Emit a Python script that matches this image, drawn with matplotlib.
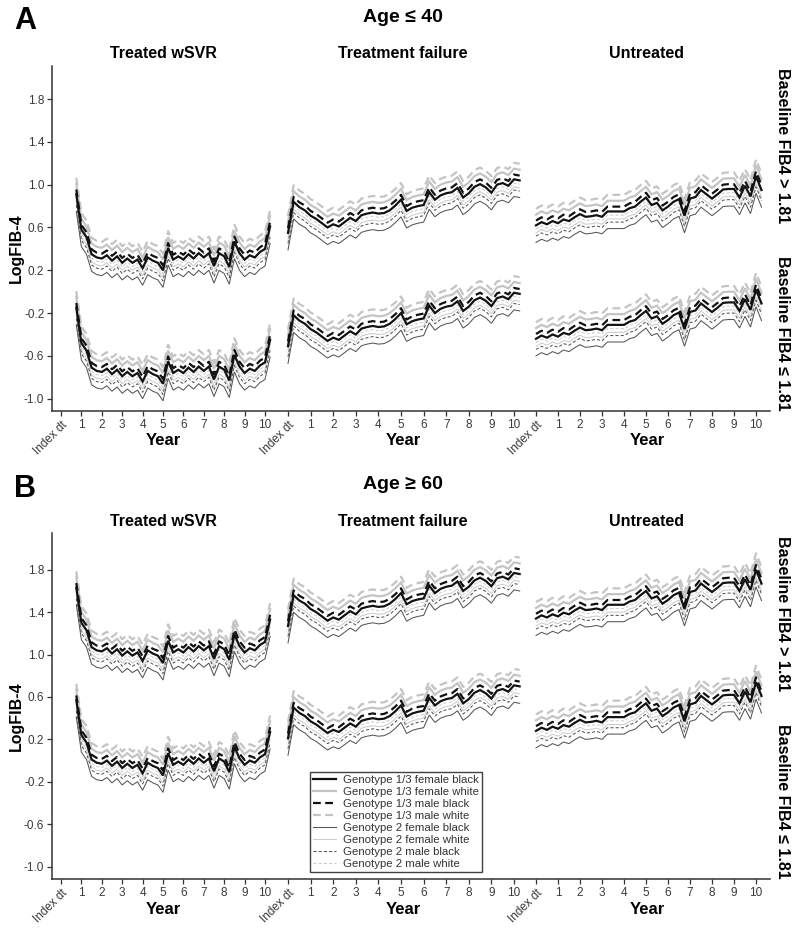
import numpy as np
import matplotlib.pyplot as plt
from matplotlib.lines import Line2D

plt.rcParams['font.family'] = ['Liberation Sans', 'DejaVu Sans']

# quarterly time points, years since index date
years_svr = np.arange(0.75, 10.26, 0.25)
years_other = np.arange(0.0, 10.26, 0.25)

# LogFIB-4, Genotype 1/3 female black, age <= 40, baseline FIB4 <= 1.81
svr_low = [-0.15, -0.48, -0.55, -0.71, -0.74, -0.75, -0.72, -0.77, -0.73, -0.79,
           -0.75, -0.79, -0.76, -0.84, -0.74, -0.77, -0.79, -0.86, -0.65, -0.76,
           -0.73, -0.76, -0.71, -0.75, -0.70, -0.74, -0.70, -0.82, -0.70, -0.73,
           -0.83, -0.59, -0.70, -0.76, -0.72, -0.74, -0.69, -0.66, -0.45]
fail_low = [-0.51, -0.22, -0.27, -0.30, -0.35, -0.38, -0.42, -0.46, -0.43, -0.45,
            -0.41, -0.37, -0.40, -0.345, -0.33, -0.32, -0.33, -0.325, -0.30, -0.255,
            -0.20, -0.305, -0.275, -0.26, -0.25, -0.13, -0.20, -0.16, -0.14, -0.13,
            -0.09, -0.18, -0.14, -0.08, -0.055, -0.085, -0.135, -0.06, -0.045, -0.07,
            -0.01, -0.02]
untr_low = [-0.44, -0.41, -0.43, -0.40, -0.42, -0.385, -0.40, -0.365, -0.335, -0.36,
            -0.355, -0.345, -0.36, -0.31, -0.31, -0.31, -0.31, -0.28, -0.265, -0.22,
            -0.18, -0.25, -0.23, -0.30, -0.265, -0.22, -0.195, -0.35, -0.19, -0.175,
            -0.11, -0.15, -0.19, -0.15, -0.105, -0.10, -0.10, -0.18, -0.07, -0.17,
            0.02, -0.11]

# shifts
high_fib4_shift = 1.06   # baseline FIB4 > 1.81 vs <= 1.81
age60_shift = 0.72       # age >= 60 vs age <= 40

groups = ['Genotype 1/3 female black', 'Genotype 1/3 female white',
          'Genotype 1/3 male black', 'Genotype 1/3 male white',
          'Genotype 2 female black', 'Genotype 2 female white',
          'Genotype 2 male black', 'Genotype 2 male white']
group_shift = [0.0, 0.10, 0.045, 0.155, -0.16, -0.07, -0.10, -0.035]

facet_names = ['Treated wSVR', 'Treatment failure', 'Untreated']
facet_years = [years_svr, years_other, years_other]
facet_values = [svr_low, fail_low, untr_low]
panels = ['A', 'B']
panel_titles = ['Age \u2264 40', 'Age \u2265 60']
row_labels = ['Baseline FIB4 > 1.81', 'Baseline FIB4 \u2264 1.81']

# styling
styles = [
    dict(color='#111111', lw=1.6, ls='-'),
    dict(color='#c4c4c4', lw=1.6, ls='-'),
    dict(color='#111111', lw=1.6, ls=(0, (3.5, 2.0))),
    dict(color='#c4c4c4', lw=1.6, ls=(0, (3.5, 2.0))),
    dict(color='#555555', lw=0.75, ls='-'),
    dict(color='#cccccc', lw=0.75, ls='-'),
    dict(color='#555555', lw=0.75, ls=(0, (3, 2))),
    dict(color='#cccccc', lw=0.75, ls=(0, (3, 2))),
]
draw_order = [5, 7, 4, 6, 1, 3, 0, 2]
facet_x0 = [61, 288, 536]     # pixel of index date
facet_step = [20.4, 22.6, 22.0]  # pixels per year

W, H = 800, 931
fig = plt.figure(figsize=(8, 9.31), dpi=100)


def fx(px):
    return px / W


def fy(py):
    return 1 - py / H


axes_px = [(65.7, 411.0, (-1.115, 2.112)), (533.0, 879.3, (-1.12, 2.147))]
tick_col = '#3a3a3a'

for p, (top, bottom, ylim) in enumerate(axes_px):
    ax = fig.add_axes([fx(52), fy(bottom), fx(770) - fx(52), (bottom - top) / H])
    ax.set_xlim(52, 770)
    ax.set_ylim(*ylim)
    for s in ['top', 'right']:
        ax.spines[s].set_visible(False)
    for s in ['left', 'bottom']:
        ax.spines[s].set_color('#333333')
        ax.spines[s].set_linewidth(1.1)

    age = age60_shift if p == 1 else 0.0
    for f in range(3):
        xs = facet_x0[f] + facet_step[f] * facet_years[f]
        base = np.array(facet_values[f]) + age
        for row_shift in (high_fib4_shift, 0.0):
            for g in draw_order:
                ax.plot(xs, base + row_shift + group_shift[g], **styles[g],
                        solid_joinstyle='miter')

    ticks, labels = [], []
    for f in range(3):
        for yr in range(11):
            ticks.append(facet_x0[f] + facet_step[f] * yr)
            labels.append('Index dt' if yr == 0 else str(yr))
    ax.set_xticks(ticks)
    ax.set_xticklabels(labels)
    for lab in ax.get_xticklabels():
        if lab.get_text() == 'Index dt':
            lab.set_rotation(45)
            lab.set_ha('right')
            lab.set_va('top')
            lab.set_rotation_mode('anchor')
    yt = [-1.0, -0.6, -0.2, 0.2, 0.6, 1.0, 1.4, 1.8]
    ax.set_yticks(yt)
    ax.set_yticklabels(['%.1f' % v for v in yt])
    ax.tick_params(axis='both', length=3.5, width=0.9, color='#333333',
                   labelsize=8.5, labelcolor=tick_col, pad=2)

    if p == 1:
        handles = [Line2D([], [], **styles[g]) for g in range(8)]
        leg = ax.legend(handles, groups, loc='lower left',
                        bbox_to_anchor=(0.359, 0.021), borderaxespad=0,
                        fontsize=8.2, labelspacing=0.17, handlelength=2.0,
                        handletextpad=0.6, borderpad=0.3, frameon=True,
                        fancybox=False)
        leg.get_frame().set_edgecolor('#111111')
        leg.get_frame().set_linewidth(1.0)
        for t in leg.get_texts():
            t.set_color('#333333')

    # text around the panel
    off = 0 if p == 0 else 468
    fig.text(fx(25), fy(21 + off), panels[p], fontsize=22, fontweight='bold',
             ha='center', va='center')
    fig.text(fx(403), fy(17 + off), panel_titles[p], fontsize=14,
             fontweight='bold', ha='center', va='center')
    for f, name in enumerate(facet_names):
        cx = [163, 403, 647][f]
        fig.text(fx(cx), fy(53 + off), name, fontsize=11.5, fontweight='bold',
                 ha='center', va='center')
        fig.text(fx(cx), fy(bottom + 30), 'Year', fontsize=12,
                 fontweight='bold', ha='center', va='center')
    fig.text(fx(16), fy((top + bottom) / 2 + 10), 'LogFIB-4', fontsize=11.5,
             fontweight='bold', rotation=90, ha='center', va='center')
    fig.text(fx(783), fy(146 + off), row_labels[0], fontsize=11.5,
             fontweight='bold', rotation=270, ha='center', va='center')
    fig.text(fx(783), fy(333 + off), row_labels[1], fontsize=11.5,
             fontweight='bold', rotation=270, ha='center', va='center')

fig.savefig('out.png', dpi=100)
